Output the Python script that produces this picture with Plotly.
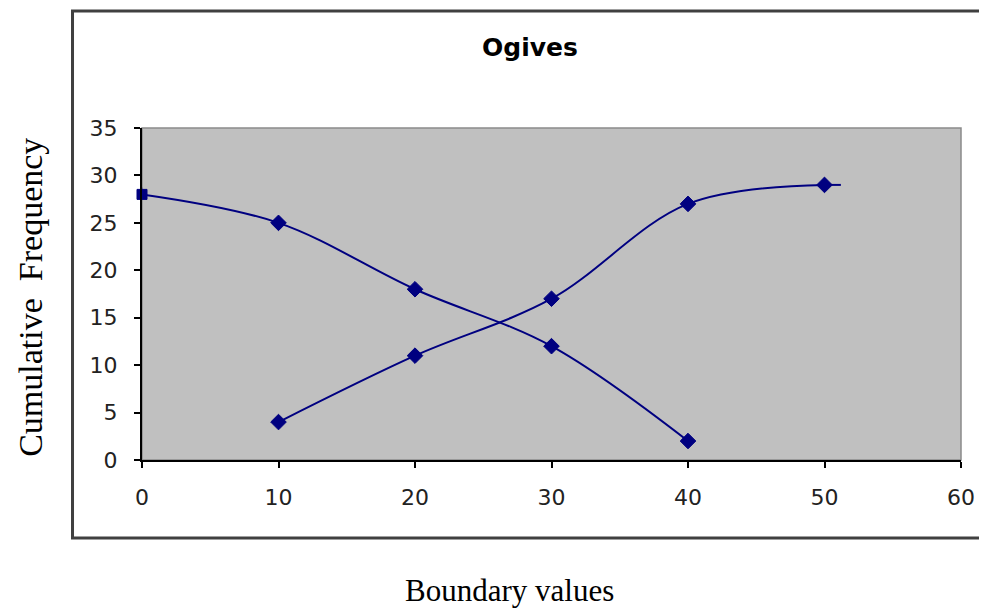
import plotly.graph_objects as go

# Data
lt_x = [10, 20, 30, 40, 50]          # less-than ogive
lt_y = [4, 11, 17, 27, 29]
gt_x = [0, 10, 20, 30, 40]           # greater-than ogive
gt_y = [28, 25, 18, 12, 2]
lt_tail_x = [50, 51.2]
lt_tail_y = [29, 29]
gt_head_x = [-0.15, 0]
gt_head_y = [29.7, 28]
gt_symbols = ["square", "diamond", "diamond", "diamond", "diamond"]
gt_sizes = [10, 12, 12, 12, 12]
x_ticks = [0, 10, 20, 30, 40, 50, 60]
y_ticks = [0, 5, 10, 15, 20, 25, 30, 35]

NAVY = "#000080"

fig = go.Figure()
fig.add_trace(go.Scatter(x=lt_tail_x, y=lt_tail_y, mode="lines",
                         line=dict(color=NAVY, width=2), cliponaxis=False,
                         showlegend=False, hoverinfo="skip"))
fig.add_trace(go.Scatter(x=gt_head_x, y=gt_head_y, mode="lines",
                         line=dict(color=NAVY, width=2), cliponaxis=False,
                         showlegend=False, hoverinfo="skip"))
fig.add_trace(go.Scatter(x=lt_x, y=lt_y, mode="lines+markers",
                         line=dict(color=NAVY, width=2, shape="spline", smoothing=1),
                         marker=dict(symbol="diamond", size=12, color=NAVY,
                                     line=dict(color=NAVY, width=1)),
                         cliponaxis=False, showlegend=False))
fig.add_trace(go.Scatter(x=gt_x, y=gt_y, mode="lines+markers",
                         line=dict(color=NAVY, width=2, shape="spline", smoothing=1),
                         marker=dict(symbol=gt_symbols, size=gt_sizes, color=NAVY,
                                     opacity=1, line=dict(color=NAVY, width=1)),
                         cliponaxis=False, showlegend=False))

# page has an 8px body margin; figure is sized to fill the rest of the window
OFF = 8
W, H = 979, 600
L, R, T, B = 134, 20, 120, 148
pw = W - L - R
ph = H - T - B
PL = L + OFF            # plot-area left in window pixels
PB = OFF + H - B        # plot-area bottom in window pixels

def px(xp):
    return (xp - PL) / pw

def py(yp):
    return (PB - yp) / ph

tickfont = dict(family="DejaVu Sans", size=22, color="#222222")

fig.update_layout(
    width=W, height=H,
    margin=dict(l=L, r=R, t=T, b=B),
    paper_bgcolor="white",
    plot_bgcolor="#C0C0C0",
    xaxis=dict(range=[0, 60], tickvals=x_ticks, ticks="outside", ticklen=6,
               tickwidth=2, tickcolor="black", showline=True, linecolor="black",
               linewidth=2, showgrid=False, zeroline=False, tickfont=tickfont,
               ticklabelstandoff=11),
    yaxis=dict(range=[0, 35], tickvals=y_ticks, ticks="outside", ticklen=6,
               tickwidth=2, tickcolor="black", showline=True, linecolor="black",
               linewidth=2, showgrid=False, zeroline=False, tickfont=tickfont,
               ticklabelstandoff=12),
    shapes=[
        dict(type="rect", xref="paper", yref="paper", x0=0, x1=1, y0=0, y1=1,
             line=dict(color="#8a8a8a", width=1.5), layer="below"),
        dict(type="rect", xref="paper", yref="paper",
             x0=px(72), x1=px(1000), y0=py(538), y1=py(11),
             line=dict(color="#404040", width=3), layer="below"),
    ],
    annotations=[
        dict(text="<b>Ogives</b>", xref="paper", yref="paper", x=px(533), y=py(47),
             xanchor="center", yanchor="middle", showarrow=False,
             font=dict(family="DejaVu Sans", size=25, color="black")),
        dict(text="Boundary values", xref="paper", yref="paper", x=px(512), y=py(590),
             xanchor="center", yanchor="middle", showarrow=False,
             font=dict(family="Liberation Serif", size=31, color="black")),
        dict(text="Cumulative&nbsp;&nbsp;Frequency", xref="paper", yref="paper",
             x=px(29), y=py(297), textangle=-90,
             xanchor="center", yanchor="middle", showarrow=False,
             font=dict(family="Liberation Serif", size=34, color="black")),
    ],
)

fig.write_html("out.html")
